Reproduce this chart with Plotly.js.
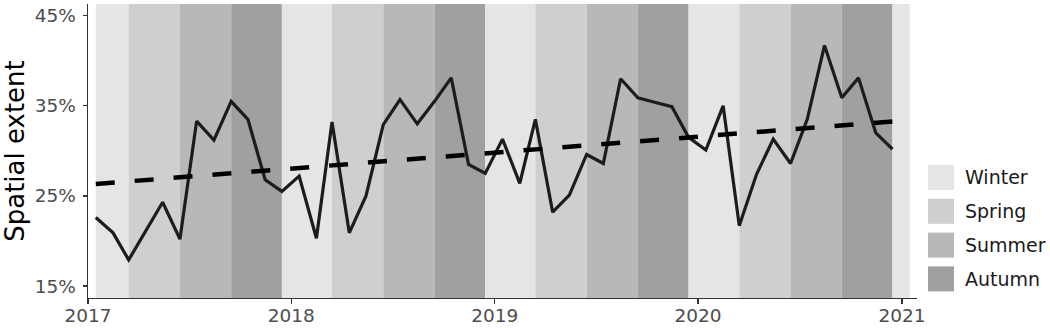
<!DOCTYPE html>
<html>
<head>
<meta charset="utf-8">
<script src="https://cdn.plot.ly/plotly-3.0.1.min.js"></script>
<style>
  html, body { margin: 0; padding: 0; background: #ffffff; }
  #chart { width: 1050px; height: 328px; }
</style>
</head>
<body>
<div id="chart"></div>
<script>
// ---- Data ----
const months = [
  '2017-01-15','2017-02-15','2017-03-15','2017-04-15','2017-05-15','2017-06-15',
  '2017-07-15','2017-08-15','2017-09-15','2017-10-15','2017-11-15','2017-12-15',
  '2018-01-15','2018-02-15','2018-03-15','2018-04-15','2018-05-15','2018-06-15',
  '2018-07-15','2018-08-15','2018-09-15','2018-10-15','2018-11-15','2018-12-15',
  '2019-01-15','2019-02-15','2019-03-15','2019-04-15','2019-05-15','2019-06-15',
  '2019-07-15','2019-08-15','2019-09-15','2019-10-15','2019-11-15','2019-12-15',
  '2020-01-15','2020-02-15','2020-03-15','2020-04-15','2020-05-15','2020-06-15',
  '2020-07-15','2020-08-15','2020-09-15','2020-10-15','2020-11-15','2020-12-15'
];
const spatialExtent = [
  22.6, 20.9, 17.9, 21.1, 24.3, 20.2, 33.3, 31.2, 35.5, 33.5, 26.8, 25.5,
  27.2, 20.3, 33.2, 20.9, 25.0, 32.9, 35.7, 33.0, 35.5, 38.1, 28.5, 27.5,
  31.3, 26.4, 33.5, 23.2, 25.1, 29.6, 28.6, 38.0, 35.9, 35.4, 34.9, 31.5,
  30.1, 35.0, 21.7, 27.4, 31.3, 28.6, 33.5, 41.7, 35.9, 38.1, 32.0, 30.2
];
// Linear trend (dashed), start and end values
const trendDates = ['2017-01-15', '2020-12-15'];
const trendValues = [26.33, 33.27];

// Season bands
const seasonNames = ['Winter', 'Spring', 'Summer', 'Autumn'];
const bandStart = [
  '2017-01-15','2017-03-15','2017-06-15','2017-09-15',
  '2017-12-15','2018-03-15','2018-06-15','2018-09-15',
  '2018-12-15','2019-03-15','2019-06-15','2019-09-15',
  '2019-12-15','2020-03-15','2020-06-15','2020-09-15',
  '2020-12-15'
];
const bandEnd = [
  '2017-03-15','2017-06-15','2017-09-15','2017-12-15',
  '2018-03-15','2018-06-15','2018-09-15','2018-12-15',
  '2019-03-15','2019-06-15','2019-09-15','2019-12-15',
  '2020-03-15','2020-06-15','2020-09-15','2020-12-15',
  '2021-01-15'
];
const bandSeason = [
  'Winter','Spring','Summer','Autumn',
  'Winter','Spring','Summer','Autumn',
  'Winter','Spring','Summer','Autumn',
  'Winter','Spring','Summer','Autumn',
  'Winter'
];
const yTickVals = [15, 25, 35, 45];
const yTickText = ['15%', '25%', '35%', '45%'];
const xTickVals = ['2017-01-01', '2018-01-01', '2019-01-01', '2020-01-01', '2021-01-01'];
const xTickText = ['2017', '2018', '2019', '2020', '2021'];

// ---- Styles ----
const seasonColors = { Winter: '#e5e5e5', Spring: '#cfcfcf', Summer: '#b8b8b8', Autumn: '#a0a0a0' };
const FONT = 'DejaVu Sans, Arial, sans-serif';
const W = 1050, H = 328;
const M = { l: 88, r: 133, t: 4, b: 30 };
const PW = W - M.l - M.r, PH = H - M.t - M.b;
const px2x = px => (px - M.l) / PW;
const px2y = py => (M.t + PH - py) / PH;

const shapes = [];
for (let i = 0; i < bandStart.length; i++) {
  shapes.push({
    type: 'rect', xref: 'x', yref: 'paper',
    x0: bandStart[i], x1: bandEnd[i], y0: 0, y1: 1,
    fillcolor: seasonColors[bandSeason[i]], line: { width: 0 }, layer: 'below'
  });
}

// Manual legend
const annotations = [];
const keyX0 = 928, keyX1 = 954, keyTop0 = 165, keyH = 25, keyStep = 33.8;
seasonNames.forEach((s, k) => {
  const top = keyTop0 + k * keyStep;
  shapes.push({
    type: 'rect', xref: 'paper', yref: 'paper',
    x0: px2x(keyX0), x1: px2x(keyX1), y0: px2y(top + keyH), y1: px2y(top),
    fillcolor: seasonColors[s], line: { width: 0 }, layer: 'above'
  });
  annotations.push({
    xref: 'paper', yref: 'paper', x: px2x(963), y: px2y(top + keyH / 2),
    xanchor: 'left', yanchor: 'middle', showarrow: false, text: s,
    font: { family: FONT, size: 19, color: '#1a1a1a' }
  });
});

const traces = [
  {
    type: 'scatter', mode: 'lines', x: months, y: spatialExtent,
    line: { color: '#1c1c1c', width: 3.2 }, showlegend: false, hoverinfo: 'skip'
  },
  {
    type: 'scatter', mode: 'lines', x: trendDates, y: trendValues,
    line: { color: '#000000', width: 4.5, dash: '19px,20px' }, showlegend: false, hoverinfo: 'skip'
  }
];

const layout = {
  width: W, height: H,
  margin: M,
  paper_bgcolor: '#ffffff', plot_bgcolor: '#ffffff',
  showlegend: false,
  xaxis: {
    type: 'date', range: ['2017-01-01', '2021-01-28'],
    tickmode: 'array', tickvals: xTickVals, ticktext: xTickText,
    ticks: 'outside', ticklen: 5, tickwidth: 1.3, tickcolor: '#333333',
    ticklabelstandoff: -5,
    showline: true, linecolor: '#333333', linewidth: 1.4,
    showgrid: false, zeroline: false,
    tickfont: { family: FONT, size: 18.5, color: '#4d4d4d' }
  },
  yaxis: {
    range: [13.67, 46.3],
    tickmode: 'array', tickvals: yTickVals, ticktext: yTickText,
    ticks: 'outside', ticklen: 4, tickwidth: 1.3, tickcolor: '#333333',
    ticklabelstandoff: 3,
    showline: true, linecolor: '#333333', linewidth: 1.4,
    showgrid: false, zeroline: false,
    tickfont: { family: FONT, size: 18.5, color: '#4d4d4d' },
    title: { text: 'Spatial extent', font: { family: FONT, size: 26, color: '#000000' }, standoff: 6 }
  },
  shapes: shapes,
  annotations: annotations
};

Plotly.newPlot('chart', traces, layout, { displayModeBar: false, staticPlot: true });
</script>
</body>
</html>
